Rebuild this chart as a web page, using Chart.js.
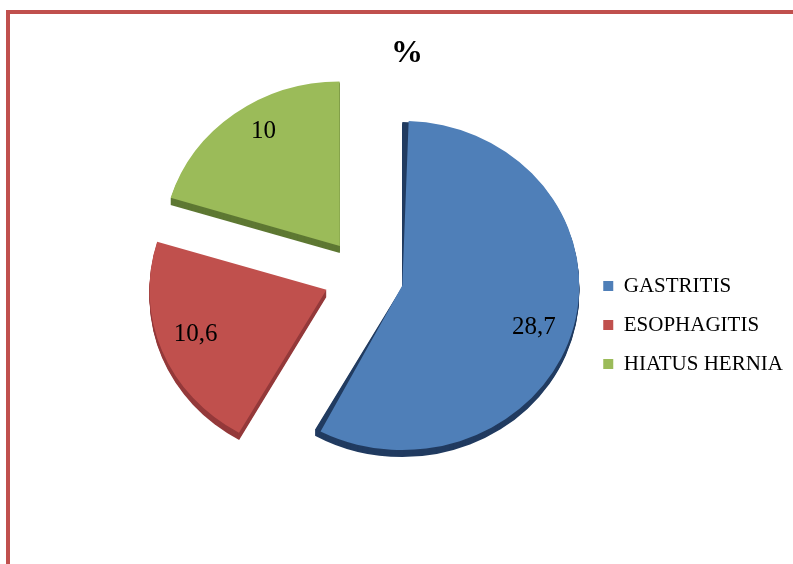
<!DOCTYPE html>
<html>
<head>
<meta charset="utf-8">
<script src="https://cdn.jsdelivr.net/npm/chart.js@4.4.1/dist/chart.umd.min.js"></script>
<style>
  html, body { margin: 0; padding: 0; background: #fff; overflow: hidden; }
  #frame {
    position: absolute; left: 6px; top: 10px; width: 800px; height: 600px;
    border-top: 4px solid #C0504D; border-left: 4px solid #C0504D; box-sizing: border-box;
  }
  canvas { position: absolute; left: 0; top: 0; }
</style>
</head>
<body>
<div id="frame"></div>
<canvas id="c" width="793" height="564"></canvas>
<script>
// Data
const categories = ['GASTRITIS', 'ESOPHAGITIS', 'HIATUS HERNIA'];
const values = [28.7, 10.6, 10];
const chartTitle = '%';

// Styling
const faceColors = ['#4F7FB8', '#C0504D', '#9BBB59'];
const sideColors = ['#213B60', '#94393A', '#5E7833'];
const SERIF = "'Liberation Serif', 'Times New Roman', serif";
const RADIUS = 177;        // outer radius of every slice, px
const EXPLODE = 160;       // Chart.js arc offset (slices move offset/4)
const TILT = 0.93;         // vertical squash for the tilted look
const DEPTH = 7;           // thickness of the slice sides, px
const LABEL_POS = 0.78;    // value labels, as a fraction of the radius
const LABEL_TURN = 3 * Math.PI / 180; // labels sit slightly clockwise of the slice middle

function sliceGeometry(arc) {
  const off = (arc.options.offset || 0) / 4;
  const mid = (arc.startAngle + arc.endAngle) / 2;
  const fix = 1 - Math.sin(Math.min(Math.PI, arc.circumference || 0));
  return {
    mid,
    r: arc.outerRadius + off * fix,
    vx: arc.x + Math.cos(mid) * off,
    vy: arc.y + Math.sin(mid) * off
  };
}

function applyTilt(ctx, cy) {
  ctx.translate(0, cy);
  ctx.scale(1, TILT);
  ctx.translate(0, -cy);
}

// Keeps all slices at the same drawn radius (large arcs get pushed out by the offset otherwise)
const evenRadius = {
  id: 'evenRadius',
  afterDatasetUpdate(chart, args) {
    args.meta.data.forEach(arc => {
      const off = (arc.options.offset || 0) / 4;
      const fix = 1 - Math.sin(Math.min(Math.PI, arc.circumference || 0));
      arc.outerRadius = RADIUS - off * fix;
    });
  }
};

// Slice thickness underneath, a tilt on the slice faces, and the value labels
const pieDepth = {
  id: 'pieDepth',
  beforeDatasetsDraw(chart) {
    const ctx = chart.ctx;
    const arcs = chart.getDatasetMeta(0).data;
    const cy = arcs[0].y;
    for (let k = DEPTH; k >= 1; k--) {
      ctx.save();
      ctx.translate(0, k);
      applyTilt(ctx, cy);
      arcs.forEach((arc, i) => {
        const g = sliceGeometry(arc);
        ctx.beginPath();
        ctx.moveTo(g.vx, g.vy);
        ctx.arc(g.vx, g.vy, g.r, arc.startAngle, arc.endAngle);
        ctx.closePath();
        ctx.fillStyle = sideColors[i];
        ctx.fill();
      });
      ctx.restore();
    }
    ctx.save();
    applyTilt(ctx, cy);
  },
  afterDatasetsDraw(chart) {
    const ctx = chart.ctx;
    ctx.restore();
    const arcs = chart.getDatasetMeta(0).data;
    const cy = arcs[0].y;
    ctx.save();
    ctx.font = '25px ' + SERIF;
    ctx.fillStyle = '#000';
    ctx.textAlign = 'center';
    ctx.textBaseline = 'middle';
    arcs.forEach((arc, i) => {
      const g = sliceGeometry(arc);
      const a = g.mid + LABEL_TURN;
      const x = g.vx + Math.cos(a) * RADIUS * LABEL_POS;
      const y = cy + (g.vy - cy) * TILT + Math.sin(a) * RADIUS * LABEL_POS;
      const text = String(chart.data.datasets[0].data[i]).replace('.', ',');
      ctx.fillText(text, x, y);
    });
    ctx.restore();
  }
};

new Chart(document.getElementById('c'), {
  type: 'pie',
  data: {
    labels: categories,
    datasets: [{
      data: values,
      backgroundColor: faceColors,
      borderWidth: 0,
      offset: EXPLODE,
      hoverOffset: 0
    }]
  },
  options: {
    responsive: false,
    animation: false,
    events: [],
    radius: RADIUS,
    layout: { padding: { left: 21, right: 0, top: 15, bottom: 85.4 } },
    plugins: {
      title: {
        display: true,
        text: chartTitle,
        color: '#000',
        font: { family: SERIF, size: 32, weight: 'bold' },
        padding: { top: 20, bottom: 0 }
      },
      // empty spacer on the left so the pie sits left of the title's centre line
      subtitle: {
        display: true,
        position: 'left',
        fullSize: false,
        text: ' ',
        font: { size: 10 },
        padding: { top: 109, bottom: 0 }
      },
      legend: {
        position: 'right',
        fullSize: false,
        align: 'center',
        maxWidth: 260,
        title: { display: true, text: ' ', font: { size: 10 }, padding: { top: 86, bottom: 0 } },
        labels: {
          boxWidth: 10,
          boxHeight: 10,
          padding: 18,
          color: '#000',
          font: { family: SERIF, size: 21 }
        }
      },
      tooltip: { enabled: false }
    }
  },
  plugins: [evenRadius, pieDepth]
});
</script>
</body>
</html>
